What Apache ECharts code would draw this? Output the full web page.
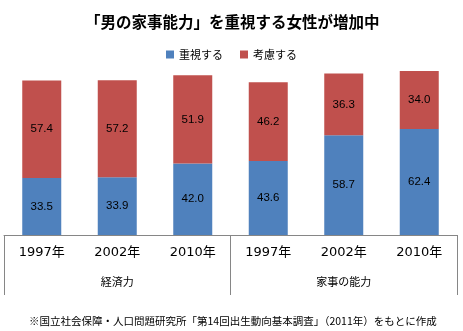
<!DOCTYPE html>
<html>
<head>
<meta charset="utf-8">
<script src="https://cdn.jsdelivr.net/npm/echarts@6/dist/echarts.min.js"></script>
<style>
html,body{margin:0;padding:0;background:#fff;}
#chart{width:463px;height:331px;}
</style>
</head>
<body>
<div id="chart"></div>
<script>
const titleText = '「男の家事能力」を重視する女性が増加中';
const footnote = '※国立社会保障・人口問題研究所「第14回出生動向基本調査」（2011年）をもとに作成';
const years = ['1997年', '2002年', '2010年', '1997年', '2002年', '2010年'];
const groups = ['経済力', '家事の能力'];
const seriesNames = ['重視する', '考慮する'];
const jushi = [33.5, 33.9, 42.0, 43.6, 58.7, 62.4];
const koryo = [57.4, 57.2, 51.9, 46.2, 36.3, 34.0];

const jp = '"Noto Sans CJK JP", sans-serif';
const chart = echarts.init(document.getElementById('chart'), null, {renderer: 'canvas'});
const labelCfg = {
  show: true,
  position: 'inside',
  color: '#000',
  fontSize: 11.5,
  fontFamily: '"Liberation Sans", Arial, sans-serif',
  formatter: p => p.value.toFixed(1)
};
chart.setOption({
  backgroundColor: '#fff',
  animation: false,
  title: [
    {text: titleText, left: 80, top: 9,
     textStyle: {fontSize: 15.5, fontWeight: 'bold', color: '#000', fontFamily: jp}},
    {text: footnote, left: 24, top: 311,
     textStyle: {fontSize: 10.5, fontWeight: 'normal', color: '#000', fontFamily: jp}}
  ],
  legend: {
    data: seriesNames, top: 44, left: 'center',
    itemWidth: 8, itemHeight: 8, itemGap: 17,
    icon: 'rect',
    textStyle: {fontSize: 11, color: '#000', fontFamily: jp}
  },
  grid: {left: 4, right: 6, top: 65, bottom: 96},
  xAxis: [
    {type: 'category', data: years, position: 'bottom',
     axisLine: {show: true, lineStyle: {color: '#868686', width: 1}},
     axisTick: {show: false},
     axisLabel: {margin: 11, fontSize: 13, color: '#000', fontFamily: '"DejaVu Sans", "Noto Sans CJK JP", sans-serif'}},
    {type: 'category', data: groups, position: 'bottom',
     axisLine: {show: false},
     axisTick: {show: true, length: 60, lineStyle: {color: '#868686', width: 1}},
     axisLabel: {margin: 41, fontSize: 11, color: '#000', fontFamily: jp}}
  ],
  yAxis: {type: 'value', min: 0, max: 100, show: false},
  series: [
    {name: seriesNames[0], type: 'bar', stack: 'total', data: jushi, barWidth: 39,
     xAxisIndex: 0, itemStyle: {color: '#4F81BD'}, label: labelCfg},
    {name: seriesNames[1], type: 'bar', stack: 'total', data: koryo, barWidth: 39,
     xAxisIndex: 0, itemStyle: {color: '#C0504D'}, label: labelCfg}
  ]
});
</script>
</body>
</html>
